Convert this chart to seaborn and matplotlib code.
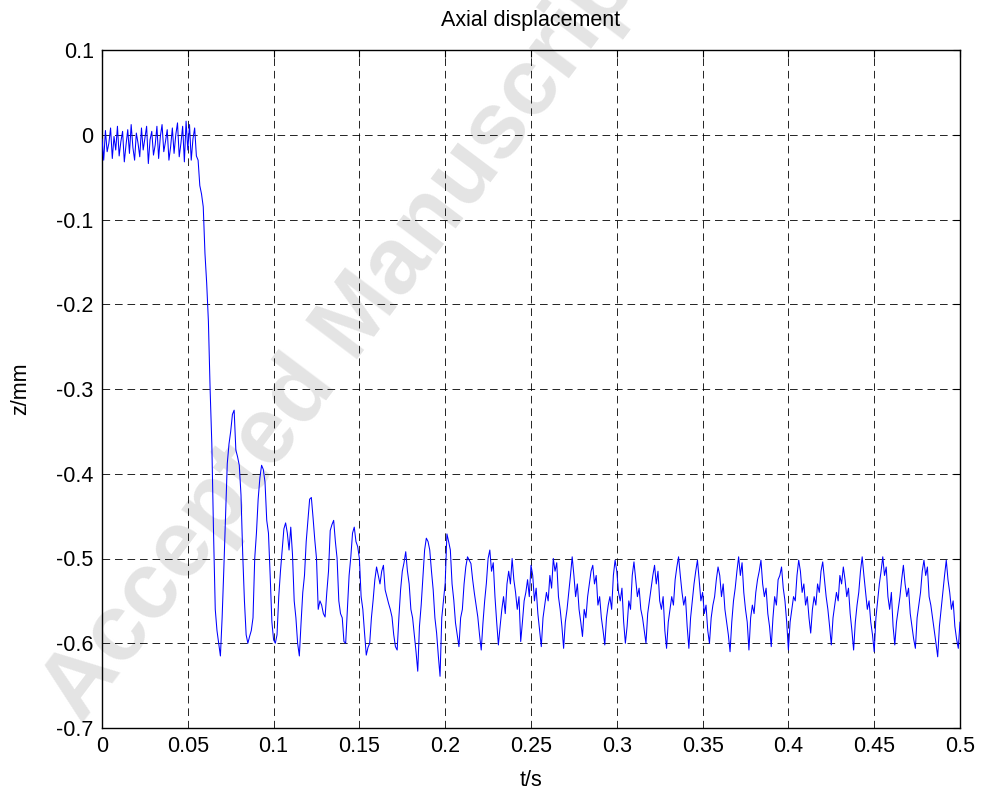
import numpy as np
import pandas as pd
import matplotlib
matplotlib.use("Agg")
import matplotlib.pyplot as plt
import seaborn as sns

# ---- data ----
dt = 0.001  # sampling step, s

z_pre = [
    -0.005, -0.030, 0.005, -0.020, -0.010, 0.008, -0.028, -0.002, -0.018, 0.010,
    -0.025, -0.008, 0.004, -0.032, -0.012, 0.006, -0.022, 0.012, -0.015, -0.030,
    0.002, -0.010, -0.026, 0.008, -0.018, -0.004, 0.010, -0.034, -0.006, 0.004,
    -0.024, -0.012, 0.010, -0.028, -0.002, 0.012, -0.020, -0.008, 0.006, -0.030,
    -0.014, 0.008, -0.022, 0.000, 0.014, -0.026, -0.010, 0.010, -0.032, 0.016,
    -0.018, 0.012, -0.030, -0.005, 0.008, -0.025,
]

z_drop = [
    -0.030, -0.060, -0.070, -0.085, -0.140, -0.175, -0.220, -0.300, -0.365, -0.470,
    -0.560, -0.585, -0.600, -0.615, -0.570, -0.512, -0.450, -0.388, -0.365, -0.350,
    -0.330, -0.325,
]

z_trans = [
    -0.372, -0.380, -0.390, -0.425, -0.495, -0.550, -0.590, -0.600, -0.592, -0.585,
    -0.570, -0.500, -0.470, -0.430, -0.405, -0.390, -0.395, -0.410, -0.455, -0.470,
    -0.520, -0.575, -0.596, -0.600, -0.590, -0.545, -0.515, -0.490, -0.465, -0.458,
    -0.470, -0.490, -0.463, -0.495, -0.550, -0.570, -0.600, -0.615, -0.576, -0.540,
    -0.520, -0.480, -0.455, -0.430, -0.428, -0.452, -0.478, -0.500, -0.560, -0.550,
    -0.555, -0.565, -0.569, -0.540, -0.515, -0.467, -0.460, -0.455, -0.480, -0.500,
    -0.550, -0.565, -0.570, -0.598, -0.600, -0.560, -0.520, -0.498, -0.470, -0.463,
    -0.480, -0.486, -0.500, -0.545, -0.560, -0.588, -0.614, -0.605, -0.600, -0.570,
    -0.549, -0.525, -0.510, -0.520, -0.530, -0.515, -0.508, -0.537, -0.545, -0.553,
    -0.560, -0.569, -0.590, -0.604, -0.608, -0.570, -0.537, -0.515, -0.505, -0.492,
    -0.515, -0.530, -0.560, -0.570, -0.590, -0.610, -0.633, -0.580, -0.555, -0.522,
    -0.490, -0.476, -0.480, -0.490, -0.515, -0.537, -0.570, -0.588, -0.615, -0.639,
    -0.570, -0.550, -0.529, -0.471, -0.480, -0.490, -0.530, -0.549, -0.576, -0.590,
    -0.604, -0.570, -0.560, -0.530, -0.510, -0.498, -0.502, -0.506, -0.525, -0.541,
    -0.555, -0.569, -0.590, -0.608, -0.576, -0.550, -0.529, -0.500,
]

z_steady = [
    -0.490, -0.515, -0.505, -0.545, -0.575, -0.602, -0.580, -0.560, -0.545, -0.565,
    -0.530, -0.515, -0.530, -0.500, -0.525, -0.540, -0.560, -0.545, -0.598, -0.575,
    -0.550, -0.540, -0.525, -0.545, -0.508, -0.520, -0.550, -0.535, -0.565, -0.585,
    -0.604, -0.570, -0.555, -0.540, -0.550, -0.520, -0.535, -0.500, -0.515, -0.505,
    -0.545, -0.560, -0.580, -0.606, -0.575, -0.560, -0.540, -0.520, -0.498, -0.520,
    -0.545, -0.530, -0.560, -0.575, -0.592, -0.560, -0.570, -0.545, -0.530, -0.515,
    -0.508, -0.530, -0.520, -0.555, -0.545, -0.570, -0.585, -0.602, -0.570, -0.555,
    -0.545, -0.560, -0.520, -0.502, -0.515, -0.540, -0.550, -0.535, -0.575, -0.600,
    -0.580, -0.550, -0.560, -0.520, -0.504, -0.525, -0.545, -0.535, -0.560, -0.570,
    -0.585, -0.600, -0.565, -0.550, -0.535, -0.520, -0.508, -0.530, -0.515, -0.550,
    -0.560, -0.545, -0.585, -0.606, -0.575, -0.560, -0.545, -0.555, -0.525, -0.510,
    -0.498, -0.520, -0.540, -0.555, -0.545, -0.580, -0.606, -0.570, -0.550, -0.530,
    -0.515, -0.502, -0.525, -0.550, -0.540, -0.565, -0.555, -0.585, -0.600, -0.570,
    -0.555, -0.545, -0.525, -0.510, -0.520, -0.545, -0.530, -0.560, -0.575, -0.590,
    -0.610, -0.575, -0.550, -0.535, -0.515, -0.498, -0.520, -0.505, -0.540, -0.560,
    -0.575, -0.608, -0.570, -0.555, -0.565, -0.540, -0.525, -0.515, -0.502, -0.530,
    -0.545, -0.535, -0.565, -0.580, -0.604, -0.570, -0.545, -0.555, -0.525, -0.520,
    -0.510, -0.535, -0.550, -0.575, -0.608, -0.575, -0.560, -0.545, -0.550, -0.520,
    -0.502, -0.515, -0.540, -0.530, -0.555, -0.545, -0.570, -0.588, -0.560, -0.545,
    -0.555, -0.530, -0.540, -0.515, -0.504, -0.525, -0.545, -0.560, -0.580, -0.602,
    -0.570, -0.555, -0.540, -0.550, -0.520, -0.530, -0.510, -0.525, -0.545, -0.535,
    -0.565, -0.585, -0.608, -0.575, -0.555, -0.540, -0.515, -0.498, -0.520, -0.540,
    -0.560, -0.550, -0.575, -0.590, -0.610, -0.570, -0.550, -0.530, -0.515, -0.498,
    -0.520, -0.510, -0.545, -0.560, -0.540, -0.580, -0.602, -0.575, -0.560, -0.545,
    -0.525, -0.508, -0.530, -0.545, -0.535, -0.565, -0.580, -0.595, -0.606, -0.570,
    -0.555, -0.540, -0.515, -0.502, -0.520, -0.510, -0.545, -0.555, -0.570, -0.585,
    -0.600, -0.616, -0.580, -0.560, -0.540, -0.520, -0.502, -0.525, -0.540, -0.560,
    -0.550, -0.580, -0.595, -0.606, -0.575,
]

x_ticks = [0, 0.05, 0.1, 0.15, 0.2, 0.25, 0.3, 0.35, 0.4, 0.45, 0.5]
x_tick_labels = ["0", "0.05", "0.1", "0.15", "0.2", "0.25", "0.3", "0.35", "0.4", "0.45", "0.5"]
y_ticks = [-0.7, -0.6, -0.5, -0.4, -0.3, -0.2, -0.1, 0, 0.1]
y_tick_labels = ["-0.7", "-0.6", "-0.5", "-0.4", "-0.3", "-0.2", "-0.1", "0", "0.1"]

title = "Axial displacement"
xlabel = "t/s"
ylabel = "z/mm"
watermark = "Accepted Manuscript"

# ---- build table ----
z = np.array(z_pre + z_drop + z_trans + z_steady)
t = np.arange(len(z)) * dt
df = pd.DataFrame({"t": t, "z": z})

# ---- style ----
sns.set_style("white")
plt.rcParams["font.family"] = ["Liberation Sans", "DejaVu Sans"]
plt.rcParams["axes.unicode_minus"] = False
plt.rcParams["lines.scale_dashes"] = False
plt.rcParams["text.color"] = "black"
plt.rcParams["axes.labelcolor"] = "black"

fig = plt.figure(figsize=(9.82, 7.99), dpi=100)
fig.patch.set_facecolor("white")
ax = fig.add_axes([102 / 982, 1 - 728 / 799, (960 - 102) / 982, (728 - 50) / 799])
ax.set_facecolor("none")

# watermark behind everything (it runs off the top edge, as in the reference)
fig.text(350 / 982, 1 - 328 / 799, watermark, rotation=53, ha="center", va="center",
         rotation_mode="anchor", fontsize=68, fontweight="bold", color="#e4e4e4",
         zorder=-10)

sns.lineplot(data=df, x="t", y="z", ax=ax, color="#0000ff", linewidth=0.75,
             estimator=None, sort=False, zorder=3)

ax.set_xlim(0, 0.5)
ax.set_ylim(-0.7, 0.1)
ax.set_xticks(x_ticks)
ax.set_xticklabels(x_tick_labels)
ax.set_yticks(y_ticks)
ax.set_yticklabels(y_tick_labels)

ax.grid(True, color="black", linestyle=(0, (5.5, 3.5)), linewidth=0.6, zorder=1)
ax.set_axisbelow(True)

for sp in ax.spines.values():
    sp.set_color("black")
    sp.set_linewidth(1.0)
    sp.set_visible(True)

ax.tick_params(direction="in", length=5, width=0.8, top=True, right=True,
               labelsize=15.5, colors="black", pad=6)

ax.set_title(title, fontsize=15.5, pad=17, color="black")
ax.set_xlabel(xlabel, fontsize=15.5, labelpad=9)
ax.set_ylabel(ylabel, fontsize=15.5, labelpad=18)

fig.savefig("out.png", dpi=100, facecolor="white")
